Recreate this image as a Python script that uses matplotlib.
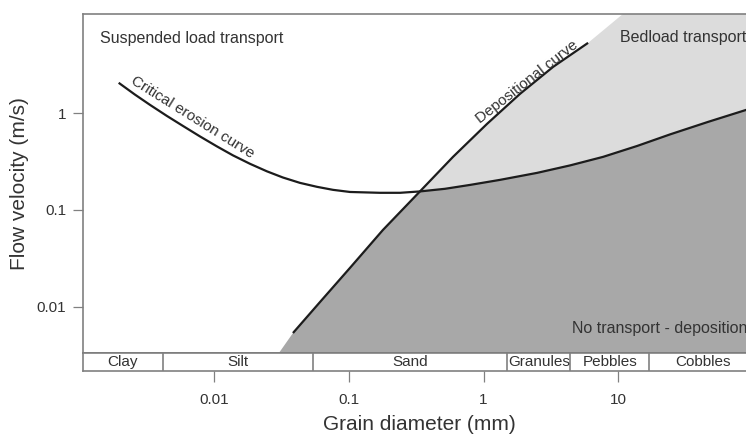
import numpy as np
import matplotlib
matplotlib.use("Agg")
import matplotlib.pyplot as plt

plt.rcParams['font.family'] = ['Liberation Sans', 'DejaVu Sans']

# Critical erosion curve: grain diameter (mm) vs flow velocity (m/s)
erosion_d = [0.00196, 0.00258, 0.00334, 0.00446, 0.00587, 0.00785, 0.0105, 0.0138,
             0.0185, 0.0247, 0.0324, 0.0434, 0.0580, 0.0762, 0.102, 0.170, 0.240,
             0.337, 0.517, 0.793, 1.32, 2.49, 4.38, 7.70, 13.8, 24.2, 46.3, 88.7, 105.0]
erosion_v = [2.06, 1.56, 1.22, 0.937, 0.738, 0.575, 0.453, 0.366,
             0.299, 0.250, 0.216, 0.190, 0.173, 0.161, 0.153, 0.150, 0.150,
             0.155, 0.165, 0.181, 0.204, 0.241, 0.288, 0.353, 0.458, 0.603, 0.812, 1.08, 1.16]

# Depositional (settling) curve
depo_d = [0.0385, 0.0610, 0.102, 0.179, 0.337, 0.593, 1.06, 1.86, 3.28, 5.96]
depo_v = [0.00532, 0.0111, 0.0251, 0.0619, 0.155, 0.353, 0.774, 1.58, 3.01, 5.33]

# Where the depositional boundary meets the lower and upper plot limits
depo_low = (0.0304, 0.00333)
depo_high = (10.8, 10.6)

# Wentworth size classes shown along the diameter axis
class_names = ["Clay", "Silt", "Sand", "Granules", "Pebbles", "Cobbles"]
class_edges = [0.00106, 0.0042, 0.054, 1.5, 4.4, 17.0, 105.0]

x_ticks = [0.01, 0.1, 1, 10]
x_tick_labels = ["0.01", "0.1", "1", "10"]
y_ticks = [0.01, 0.1, 1]
y_tick_labels = ["0.01", "0.1", "1"]

XMIN, XMAX = class_edges[0], class_edges[-1]
YMIN, YMAX = 0.00333, 10.6

W, H = 746, 434
fig = plt.figure(figsize=(W / 100, H / 100), dpi=100)
left, right = 82.7, 756.0
top, mid, bot = 14.0, 352.7, 370.7
ax = fig.add_axes([left / W, (H - mid) / H, (right - left) / W, (mid - top) / H])
band = fig.add_axes([left / W, (H - bot) / H, (right - left) / W, (bot - mid) / H], sharex=ax)

dark = "#a8a8a8"
light = "#dcdcdc"
line_c = "#1c1c1c"
text_c = "#333333"
spine_c = "#808080"

# index where the two curves intersect
i_ero = erosion_d.index(0.337)
i_dep = depo_d.index(0.337)

# No transport / deposition region
poly_x = [depo_low[0]] + depo_d[:i_dep + 1] + erosion_d[i_ero + 1:] + [XMAX, XMAX]
poly_y = [depo_low[1]] + depo_v[:i_dep + 1] + erosion_v[i_ero + 1:] + [erosion_v[-1], YMIN]
ax.fill(poly_x, poly_y, color=dark, lw=0, zorder=1)

# Bedload transport region
poly_x = depo_d[i_dep:] + [depo_high[0], XMAX] + erosion_d[::-1][:len(erosion_d) - i_ero]
poly_y = depo_v[i_dep:] + [depo_high[1], YMAX] + erosion_v[::-1][:len(erosion_v) - i_ero]
ax.fill(poly_x, poly_y, color=light, lw=0, zorder=1)

ax.plot(erosion_d, erosion_v, color=line_c, lw=1.6, zorder=3,
        solid_capstyle='butt', solid_joinstyle='round')
ax.plot(depo_d, depo_v, color=line_c, lw=1.6, zorder=3,
        solid_capstyle='butt', solid_joinstyle='round')

ax.set_xscale('log')
ax.set_yscale('log')
ax.set_xlim(XMIN, XMAX)
ax.set_ylim(YMIN, YMAX)

ax.set_yticks(y_ticks)
ax.set_yticklabels(y_tick_labels)
ax.yaxis.set_minor_locator(matplotlib.ticker.NullLocator())
ax.xaxis.set_minor_locator(matplotlib.ticker.NullLocator())
ax.tick_params(axis='y', which='major', length=7, width=0.9, color=spine_c,
               labelcolor=text_c, labelsize=11, pad=5)
ax.tick_params(axis='x', which='both', bottom=False, labelbottom=False)
for s in ax.spines.values():
    s.set_color(spine_c)
    s.set_linewidth(1.2)
ax.spines['bottom'].set_color("#606060")
ax.set_ylabel("Flow velocity (m/s)", fontsize=15, color=text_c, labelpad=5)

ax.text(0.0257, 0.929, "Suspended load transport", transform=ax.transAxes,
        fontsize=11.5, color=text_c, ha='left', va='center')
ax.text(0.798, 0.932, "Bedload transport", transform=ax.transAxes,
        fontsize=11.5, color=text_c, ha='left', va='center')
ax.text(0.726, 0.070, "No transport - deposition", transform=ax.transAxes,
        fontsize=11.5, color=text_c, ha='left', va='center')
ax.text(0.0069, 0.91, "Critical erosion curve", fontsize=11, color=text_c,
        rotation=-32, ha='center', va='center', rotation_mode='anchor')
ax.text(2.10, 2.10, "Depositional curve", fontsize=11, color=text_c,
        rotation=38, ha='center', va='center', rotation_mode='anchor')

# size-class band
band.set_xscale('log')
band.set_xlim(XMIN, XMAX)
band.set_ylim(0, 1)
band.set_yticks([])
for s in band.spines.values():
    s.set_color(spine_c)
    s.set_linewidth(1.2)
for e in class_edges[1:-1]:
    band.axvline(e, color=spine_c, lw=1.2)
for name, a, b in zip(class_names, class_edges[:-1], class_edges[1:]):
    band.text(np.sqrt(a * b), 0.5, name, fontsize=11, color=text_c,
              ha='center', va='center')
band.set_xticks(x_ticks)
band.set_xticklabels(x_tick_labels)
band.xaxis.set_minor_locator(matplotlib.ticker.NullLocator())
band.tick_params(axis='x', which='major', length=8, width=0.9, color=spine_c,
                 labelcolor=text_c, labelsize=11, pad=8)
band.set_xlabel("Grain diameter (mm)", fontsize=15, color=text_c, labelpad=6)

fig.savefig("out.png", dpi=100)
